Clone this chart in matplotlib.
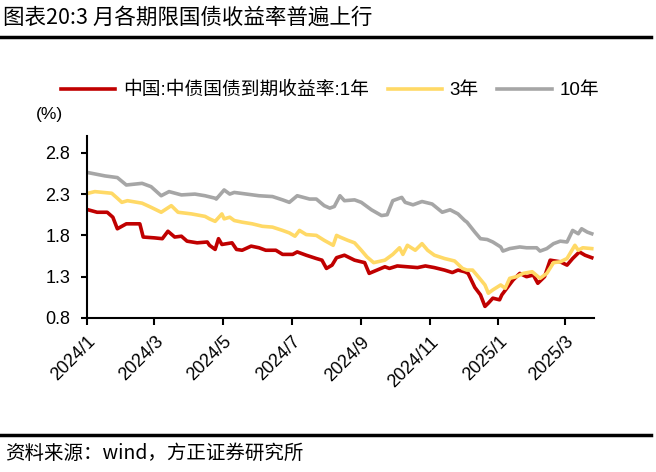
import matplotlib
matplotlib.use("Agg")
import matplotlib.pyplot as plt
from matplotlib.lines import Line2D
import pandas as pd

plt.rcParams['font.family'] = ['Liberation Sans', 'Noto Sans CJK SC', 'DejaVu Sans']

# 1年
dates_1y = ["2024-01-02", "2024-01-10", "2024-01-19", "2024-01-24", "2024-01-28", "2024-02-05",
            "2024-02-17", "2024-02-20", "2024-03-01", "2024-03-08", "2024-03-13", "2024-03-19",
            "2024-03-25", "2024-03-30", "2024-04-08", "2024-04-17", "2024-04-19", "2024-04-24",
            "2024-04-27", "2024-04-30", "2024-05-09", "2024-05-13", "2024-05-18", "2024-05-26",
            "2024-06-02", "2024-06-08", "2024-06-17", "2024-06-23", "2024-07-02", "2024-07-06",
            "2024-07-14", "2024-07-23", "2024-07-28", "2024-08-01", "2024-08-06", "2024-08-10",
            "2024-08-17", "2024-08-26", "2024-09-04", "2024-09-08", "2024-09-15", "2024-09-22",
            "2024-09-26", "2024-10-03", "2024-10-12", "2024-10-21", "2024-10-28", "2024-11-05",
            "2024-11-14", "2024-11-21", "2024-11-26", "2024-12-02", "2024-12-05", "2024-12-11",
            "2024-12-16", "2024-12-20", "2024-12-23", "2024-12-27", "2025-01-02", "2025-01-04",
            "2025-01-09", "2025-01-14", "2025-01-20", "2025-01-26", "2025-02-01", "2025-02-05",
            "2025-02-11", "2025-02-16", "2025-02-25", "2025-03-03", "2025-03-08", "2025-03-14",
            "2025-03-19", "2025-03-25"]
yield_1y = [2.11, 2.08, 2.08, 2.02, 1.88, 1.94,
            1.94, 1.78, 1.77, 1.76, 1.85, 1.78,
            1.79, 1.73, 1.71, 1.72, 1.68, 1.63,
            1.76, 1.69, 1.71, 1.63, 1.62, 1.67,
            1.65, 1.62, 1.62, 1.57, 1.57, 1.60,
            1.56, 1.52, 1.50, 1.40, 1.44, 1.53,
            1.56, 1.50, 1.47, 1.34, 1.38, 1.42,
            1.40, 1.43, 1.42, 1.41, 1.43, 1.41,
            1.38, 1.35, 1.38, 1.36, 1.34, 1.17,
            1.08, 0.94, 0.98, 1.04, 1.02, 1.08,
            1.17, 1.26, 1.34, 1.30, 1.32, 1.22,
            1.30, 1.50, 1.48, 1.44, 1.52, 1.60,
            1.56, 1.53]

# 3年
dates_3y = ["2024-01-02", "2024-01-08", "2024-01-23", "2024-01-28", "2024-02-01", "2024-02-06",
            "2024-02-19", "2024-02-27", "2024-03-07", "2024-03-16", "2024-03-22", "2024-04-03",
            "2024-04-15", "2024-04-19", "2024-04-24", "2024-04-30", "2024-05-02", "2024-05-07",
            "2024-05-11", "2024-05-18", "2024-05-27", "2024-06-05", "2024-06-14", "2024-06-23",
            "2024-06-29", "2024-07-04", "2024-07-08", "2024-07-14", "2024-07-23", "2024-07-30",
            "2024-08-07", "2024-08-10", "2024-08-13", "2024-08-20", "2024-08-26", "2024-09-01",
            "2024-09-06", "2024-09-12", "2024-09-22", "2024-09-29", "2024-10-05", "2024-10-08",
            "2024-10-12", "2024-10-19", "2024-10-25", "2024-10-30", "2024-11-05", "2024-11-14",
            "2024-11-23", "2024-11-30", "2024-12-04", "2024-12-09", "2024-12-14", "2024-12-20",
            "2024-12-23", "2024-12-27", "2025-01-03", "2025-01-07", "2025-01-11", "2025-01-17",
            "2025-01-23", "2025-01-31", "2025-02-07", "2025-02-13", "2025-02-19", "2025-02-25",
            "2025-03-03", "2025-03-10", "2025-03-13", "2025-03-17", "2025-03-25"]
yield_3y = [2.31, 2.33, 2.31, 2.25, 2.20, 2.22,
            2.19, 2.14, 2.08, 2.16, 2.08, 2.06,
            2.03, 2.00, 1.97, 2.06, 2.00, 2.02,
            1.98, 1.96, 1.94, 1.91, 1.90, 1.86,
            1.83, 1.79, 1.86, 1.81, 1.80, 1.74,
            1.68, 1.80, 1.78, 1.74, 1.71, 1.62,
            1.54, 1.47, 1.50, 1.57, 1.65, 1.57,
            1.68, 1.62, 1.70, 1.62, 1.56, 1.52,
            1.49, 1.40, 1.38, 1.38, 1.30, 1.20,
            1.10, 1.14, 1.20, 1.16, 1.28, 1.30,
            1.34, 1.36, 1.28, 1.34, 1.47, 1.48,
            1.52, 1.68, 1.62, 1.65, 1.64]

# 10年
dates_10y = ["2024-01-02", "2024-01-17", "2024-01-28", "2024-02-05", "2024-02-19", "2024-02-27",
             "2024-03-07", "2024-03-14", "2024-03-25", "2024-04-06", "2024-04-15", "2024-04-24",
             "2024-04-25", "2024-05-02", "2024-05-07", "2024-05-11", "2024-05-22", "2024-06-02",
             "2024-06-14", "2024-06-23", "2024-06-29", "2024-07-06", "2024-07-17", "2024-07-23",
             "2024-07-30", "2024-08-04", "2024-08-08", "2024-08-13", "2024-08-17", "2024-08-26",
             "2024-09-01", "2024-09-10", "2024-09-19", "2024-09-24", "2024-09-29", "2024-10-07",
             "2024-10-10", "2024-10-17", "2024-10-25", "2024-11-03", "2024-11-12", "2024-11-19",
             "2024-11-26", "2024-12-02", "2024-12-04", "2024-12-11", "2024-12-16", "2024-12-22",
             "2024-12-27", "2025-01-03", "2025-01-05", "2025-01-11", "2025-01-20", "2025-01-26",
             "2025-02-04", "2025-02-07", "2025-02-13", "2025-02-19", "2025-02-25", "2025-03-03",
             "2025-03-08", "2025-03-13", "2025-03-16", "2025-03-21", "2025-03-25"]
yield_10y = [2.56, 2.52, 2.50, 2.41, 2.43, 2.39,
             2.28, 2.33, 2.29, 2.30, 2.28, 2.25,
             2.24, 2.35, 2.30, 2.32, 2.30, 2.28,
             2.27, 2.23, 2.20, 2.28, 2.24, 2.24,
             2.16, 2.13, 2.15, 2.28, 2.22, 2.23,
             2.20, 2.11, 2.04, 2.05, 2.22, 2.26,
             2.20, 2.17, 2.21, 2.18, 2.08, 2.11,
             2.06, 1.98, 1.96, 1.84, 1.76, 1.75,
             1.72, 1.66, 1.61, 1.64, 1.66, 1.65,
             1.65, 1.61, 1.64, 1.70, 1.73, 1.72,
             1.86, 1.82, 1.88, 1.84, 1.82]

labels = ["中国:中债国债到期收益率:1年", "3年", "10年"]
tick_dates = ["2024-01-01", "2024-03-01", "2024-05-01", "2024-07-01", "2024-09-01",
              "2024-11-01", "2025-01-01", "2025-03-01"]
tick_labels = ["2024/1", "2024/3", "2024/5", "2024/7", "2024/9", "2024/11", "2025/1", "2025/3"]
yticks = [0.8, 1.3, 1.8, 2.3, 2.8]

fig = plt.figure(figsize=(6.56, 4.72), dpi=100)
ax = fig.add_axes([0.1326, 0.3263, 0.7729, 0.3850])

ax.plot(pd.to_datetime(dates_1y), yield_1y, color="#C00000", lw=2.6, label=labels[0], solid_joinstyle="round")
ax.plot(pd.to_datetime(dates_3y), yield_3y, color="#FFD966", lw=2.6, label=labels[1], solid_joinstyle="round")
ax.plot(pd.to_datetime(dates_10y), yield_10y, color="#A6A6A6", lw=2.6, label=labels[2], solid_joinstyle="round")

ax.set_ylim(0.8, 3.0)
ax.set_yticks(yticks)
ax.set_yticklabels([f"{v:.1f}" for v in yticks])
ax.set_xlim(pd.Timestamp("2024-01-01"), pd.Timestamp("2025-03-27"))
ax.set_xticks(pd.to_datetime(tick_dates))
ax.set_xticklabels(tick_labels, rotation=45, ha="right", va="top", rotation_mode="anchor")

for s in ["top", "right"]:
    ax.spines[s].set_visible(False)
for s in ["left", "bottom"]:
    ax.spines[s].set_linewidth(1.5)
ax.tick_params(axis="both", labelsize=13, width=1.5, color="black")
ax.tick_params(axis="x", length=5, pad=6)
ax.tick_params(axis="y", length=4, pad=8)

ax.text(-0.10, 1.12, "(%)", transform=ax.transAxes, fontsize=12.5, ha="left", va="center")

fig.legend(loc="center", bbox_to_anchor=(0.503, 0.808), ncol=3, frameon=False, fontsize=13.5,
           handlelength=2.9, handletextpad=0.4, columnspacing=1.0)

fig.text(0.005, 0.962, "图表20:3 月各期限国债收益率普遍上行", fontsize=15.5, ha="left", va="center",
         family=["Noto Sans CJK SC"])
fig.add_artist(Line2D([0.0, 0.992], [0.921, 0.921], color="black", lw=2.5, transform=fig.transFigure))
fig.add_artist(Line2D([0.0, 0.992], [0.079, 0.079], color="black", lw=2.5, transform=fig.transFigure))
fig.text(0.008, 0.040, "资料来源：wind，方正证券研究所", fontsize=14, ha="left", va="center",
         family=["Noto Sans CJK SC"], style="italic")

fig.savefig("out.png", dpi=100)
